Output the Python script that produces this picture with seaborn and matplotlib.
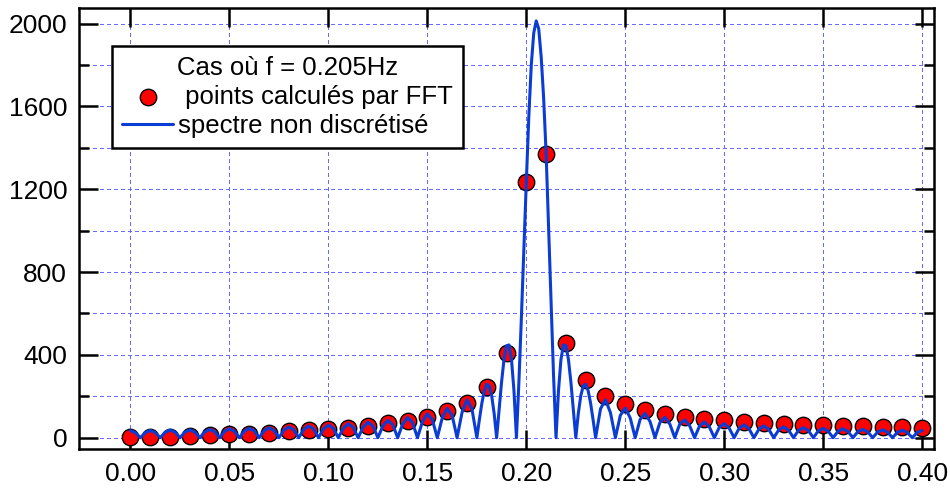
import matplotlib
matplotlib.use("Agg")
import matplotlib.pyplot as plt
import seaborn as sns
from matplotlib.ticker import MultipleLocator, FormatStrFormatter

# ---- FFT points (frequency in Hz, amplitude) ----
freq_fft = [0.00, 0.01, 0.02, 0.03, 0.04, 0.05, 0.06, 0.07, 0.08, 0.09,
            0.10, 0.11, 0.12, 0.13, 0.14, 0.15, 0.16, 0.17, 0.18, 0.19,
            0.20, 0.21, 0.22, 0.23, 0.24, 0.25, 0.26, 0.27, 0.28, 0.29,
            0.30, 0.31, 0.32, 0.33, 0.34, 0.35, 0.36, 0.37, 0.38, 0.39, 0.40]
amp_fft = [2, 3, 5, 8, 11, 16, 20, 24, 30, 36,
           41, 48, 58, 69, 83, 101, 127, 168, 243, 411,
           1237, 1372, 457, 278, 202, 161, 134, 116, 101, 91,
           85, 76, 71, 67, 63, 61, 58, 55, 52, 50, 48]

# ---- continuous (non-discretised) spectrum ----
freq_line = [
    0.0000, 0.0025, 0.0050, 0.0075, 0.0100, 0.0125, 0.0150, 0.0175,
    0.0200, 0.0225, 0.0250, 0.0275, 0.0300, 0.0325, 0.0350, 0.0375,
    0.0400, 0.0425, 0.0450, 0.0475, 0.0500, 0.0525, 0.0550, 0.0575,
    0.0600, 0.0625, 0.0650, 0.0675, 0.0700, 0.0725, 0.0750, 0.0775,
    0.0800, 0.0825, 0.0850, 0.0875, 0.0900, 0.0925, 0.0950, 0.0975,
    0.1000, 0.1025, 0.1050, 0.1075, 0.1100, 0.1125, 0.1150, 0.1175,
    0.1200, 0.1225, 0.1250, 0.1275, 0.1300, 0.1325, 0.1350, 0.1375,
    0.1400, 0.1425, 0.1450, 0.1475, 0.1500, 0.1525, 0.1550, 0.1575,
    0.1600, 0.1625, 0.1650, 0.1675, 0.1700, 0.1725, 0.1750,
    0.17625, 0.1775, 0.17875, 0.1800, 0.18125, 0.1825, 0.18375, 0.1850,
    0.18625, 0.1875, 0.18875, 0.1900, 0.19125, 0.1925, 0.19375, 0.1950,
    0.19625, 0.1975, 0.19875, 0.2000, 0.20125, 0.2025, 0.20375, 0.2050,
    0.20625, 0.2075, 0.20875, 0.2100, 0.21125, 0.2125, 0.21375, 0.2150,
    0.21625, 0.2175, 0.21875, 0.2200, 0.22125, 0.2225, 0.22375, 0.2250,
    0.22625, 0.2275, 0.22875, 0.2300, 0.23125, 0.2325, 0.23375, 0.2350,
    0.2375, 0.2400, 0.2425, 0.2450, 0.2475, 0.2500, 0.2525, 0.2550,
    0.2575, 0.2600, 0.2625, 0.2650, 0.2675, 0.2700, 0.2725, 0.2750,
    0.2775, 0.2800, 0.2825, 0.2850, 0.2875, 0.2900, 0.2925, 0.2950,
    0.2975, 0.3000, 0.3025, 0.3050, 0.3075, 0.3100, 0.3125, 0.3150,
    0.3175, 0.3200, 0.3225, 0.3250, 0.3275, 0.3300, 0.3325, 0.3350,
    0.3375, 0.3400, 0.3425, 0.3450, 0.3475, 0.3500, 0.3525, 0.3550,
    0.3575, 0.3600, 0.3625, 0.3650, 0.3675, 0.3700, 0.3725, 0.3750,
    0.3775, 0.3800, 0.3825, 0.3850, 0.3875, 0.3900, 0.3925, 0.3950,
    0.3975, 0.4000]
amp_line = [
    34, 24, 0, 25, 35, 25, 0, 26,
    37, 27, 0, 27, 38, 27, 0, 28,
    40, 29, 0, 30, 43, 31, 0, 31,
    45, 33, 0, 33, 48, 35, 0, 36,
    52, 38, 0, 39, 57, 42, 0, 42,
    61, 45, 0, 45, 67, 50, 0, 50,
    75, 56, 0, 56, 84, 63, 0, 65,
    97, 73, 0, 77, 115, 87, 0, 95,
    142, 108, 0, 121, 183, 140, 0,
    85, 165, 226, 258, 250, 202, 116, 0,
    136, 270, 380, 444, 448, 378, 227, 0,
    270, 580, 914, 1237, 1550, 1800, 1955, 2013,
    1975, 1840, 1640, 1372, 1010, 645, 300, 0,
    227, 378, 448, 444, 380, 270, 136, 0,
    116, 202, 250, 258, 226, 165, 85, 0,
    140, 183, 121, 0, 108, 143, 95, 0,
    88, 117, 78, 0, 73, 98, 66, 0,
    65, 86, 58, 0, 56, 76, 51, 0,
    50, 68, 46, 0, 45, 62, 43, 0,
    41, 57, 40, 0, 37, 52, 36, 0,
    35, 48, 34, 0, 32, 45, 31, 0,
    31, 43, 30, 0, 29, 40, 28, 0,
    27, 38, 27, 0, 26, 36, 25, 0,
    25, 35]

legend_title = "Cas où f = 0.205Hz"
label_points = " points calculés par FFT"
label_line = "spectre non discrétisé"

GRID_COLOR = "#6a6aff"
GRID_STYLE = dict(color=GRID_COLOR, linestyle=(0, (4, 4)), linewidth=0.72,
                  zorder=0.5, snap=True, antialiased=False)

sns.set_style("ticks")
plt.rcParams["font.family"] = ["Liberation Sans", "DejaVu Sans"]
plt.rcParams["text.color"] = "black"
plt.rcParams["xtick.color"] = "black"
plt.rcParams["ytick.color"] = "black"
plt.rcParams["axes.labelcolor"] = "black"

fig = plt.figure(figsize=(9.5, 4.9), dpi=100)
ax = fig.add_axes([0.0832, 0.0831, 0.9, 0.9])

sns.scatterplot(x=freq_fft, y=amp_fft, ax=ax, s=140, color="#ff0000",
                edgecolor="black", linewidth=1.0, zorder=3, label=label_points)
sns.lineplot(x=freq_line, y=amp_line, ax=ax, color="#0b3cd4", linewidth=2.2,
             zorder=4, estimator=None, sort=False, label=label_line)

ax.set_xlim(-0.026, 0.406)
ax.set_ylim(-56, 2074)

ax.xaxis.set_major_locator(MultipleLocator(0.05))
ax.xaxis.set_major_formatter(FormatStrFormatter("%.2f"))
ax.yaxis.set_major_locator(MultipleLocator(400))
ax.yaxis.set_minor_locator(MultipleLocator(200))
ax.yaxis.set_major_formatter(FormatStrFormatter("%d"))

ax.tick_params(which="both", direction="in", top=True, right=True,
               width=1.8, color="black", labelcolor="black")
ax.tick_params(which="major", length=14, labelsize=19)
ax.tick_params(axis="y", which="major", pad=8.5)
ax.tick_params(axis="x", which="major", pad=9)
ax.tick_params(which="minor", length=7.5)
ax.grid(False)

# dashed blue grid at every tick position (major x, major+minor y)
x0, x1 = ax.get_xlim()
y0, y1 = ax.get_ylim()
for xv in ax.xaxis.get_majorticklocs():
    if x0 <= xv <= x1:
        ax.axvline(xv, **GRID_STYLE)
for yv in list(ax.yaxis.get_majorticklocs()) + list(ax.yaxis.get_minorticklocs()):
    if y0 <= yv <= y1:
        ax.axhline(yv, **GRID_STYLE)

for sp in ax.spines.values():
    sp.set_linewidth(1.8)
    sp.set_color("black")

ax.set_xlabel("")
ax.set_ylabel("")

leg = ax.legend(title=legend_title, loc="upper left",
                bbox_to_anchor=(0.0386, 0.9145), borderaxespad=0,
                frameon=True, fancybox=False, edgecolor="black", framealpha=1,
                fontsize=18.5, title_fontsize=18.5, handlelength=2.0,
                handletextpad=0.2, labelspacing=0.2, borderpad=0.38)
leg.set_zorder(10)
leg.get_frame().set_linewidth(1.8)
for t in leg.get_texts():
    t.set_color("black")
leg.get_title().set_color("black")

fig.savefig("out.png", dpi=100)
